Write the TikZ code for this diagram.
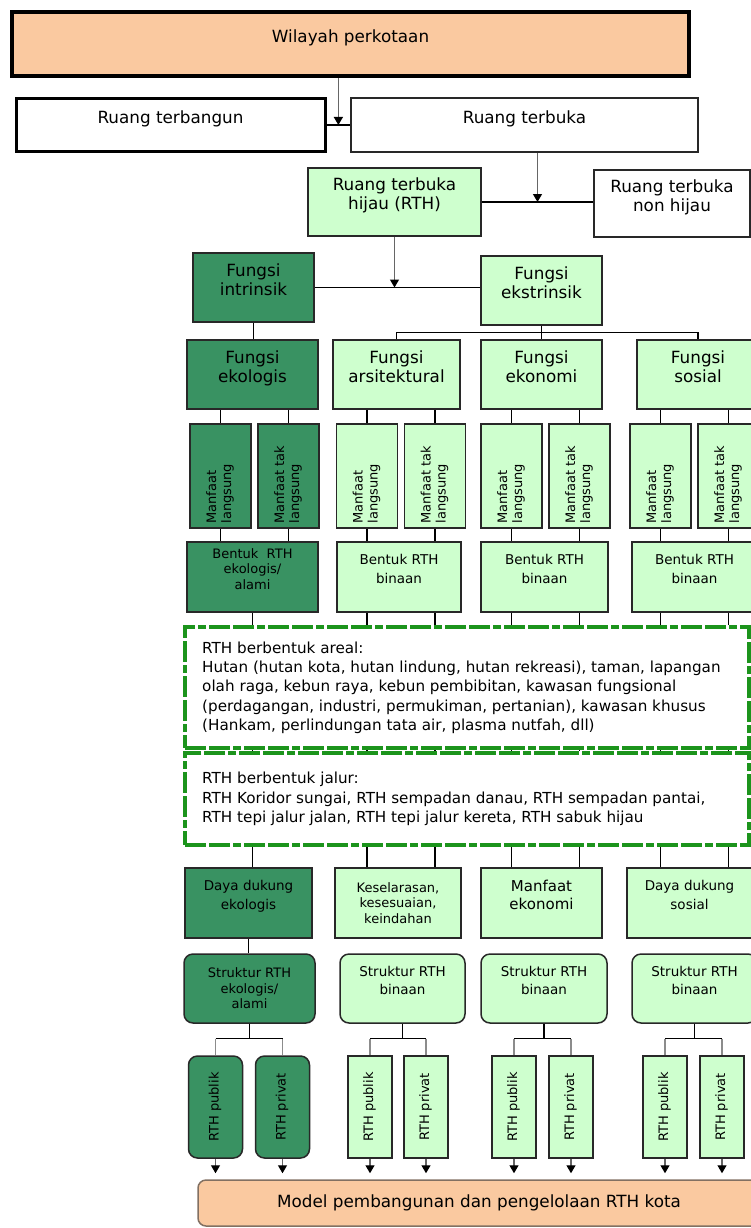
\documentclass[tikz,border=0pt]{standalone}
\usepackage{fontspec}
\setmainfont{DejaVu Sans}
\usepackage{graphicx}
\usetikzlibrary{arrows.meta,positioning,calc}

\definecolor{peach}{RGB}{250,201,160}
\definecolor{dkgreen}{RGB}{57,146,98}
\definecolor{ltgreen}{RGB}{206,255,206}
\definecolor{dashgreen}{RGB}{28,148,28}
\definecolor{edge}{RGB}{40,40,40}
\definecolor{modeledge}{RGB}{130,112,98}

\newcommand{\vlines}[1]{\rotatebox{90}{\begin{tabular}{@{}l@{}}#1\end{tabular}}}

\tikzset{
  box/.style={draw=edge, line width=1.5pt, align=center, inner sep=1pt,
    font=\fontsize{16.8}{19}\selectfont},
  sz/.style 2 args={minimum width=#1pt, minimum height=#2pt},
  wbox/.style={box, fill=white},
  lbox/.style={box, fill=ltgreen},
  dbox/.style={box, fill=dkgreen},
  rnd/.style={rounded corners=9pt},
  dround/.style={dbox, rnd},
  lift/.style={text depth=16pt},
  midfont/.style={font=\fontsize{13.5}{18.5}\selectfont},
  smallfont/.style={font=\fontsize{13}{15.5}\selectfont},
  vtext/.style={inner sep=0pt, font=\fontsize{13}{15}\selectfont},
  link/.style={draw=black, line width=1.4pt},
  faint/.style={draw=black!45, line width=1.4pt},
  arr/.style={draw=black!60, line width=1.3pt, -{Triangle[length=8pt,width=9pt,color=black]}},
  greenframe/.style={draw=dashgreen, line width=4pt,
    dash pattern=on 21pt off 3pt on 21pt off 3pt on 8pt off 3pt},
  listtext/.style={anchor=west, align=left, inner sep=0pt,
    font=\fontsize{15.2}{19.3}\selectfont}
}

\begin{document}
\begin{tikzpicture}[x=1pt,y=-1pt]
  \useasboundingbox (0,0) rectangle (751,1228);

  \node[wbox, fill=peach, draw=black, line width=4pt, lift, sz={677}{64}] (wil) at (350.5,44) {Wilayah perkotaan};
  \node[wbox, draw=black, line width=3pt, lift, sz={309}{52}] (bangun) at (170.5,125) {Ruang terbangun};
  \node[wbox, lift, sz={347}{54}] (buka) at (524.5,125) {Ruang terbuka};
  \node[lbox, lift, sz={173}{68}] (rth) at (394.5,202) {Ruang terbuka\\hijau (RTH)};
  \node[wbox, lift, sz={156}{67}] (nonh) at (672,203.5) {Ruang terbuka\\non hijau};
  \node[dbox, lift, sz={121}{69}] (intr) at (253.5,287.5) {Fungsi\\intrinsik};
  \node[lbox, lift, sz={121}{69}] (ekst) at (541.5,290.5) {Fungsi\\ekstrinsik};

  \node[dbox, lift, sz={131}{69}] (f1) at (252.5,374.5) {Fungsi\\ekologis};
  \node[lbox, lift, sz={127}{69}] (f2) at (396.5,374.5) {Fungsi\\arsitektural};
  \node[lbox, lift, sz={121}{69}] (f3) at (541.5,374.5) {Fungsi\\ekonomi};
  \node[lbox, lift, sz={122}{69}] (f4) at (698,374.5) {Fungsi\\sosial};

  \foreach \k/\x/\c in {1/220.5/dbox, 2/367/lbox, 3/511.5/lbox, 4/660.5/lbox} {
    \node[\c, sz={61}{104}] (ml\k) at (\x,476) {};
    \node[\c, sz={61}{104}] (mt\k) at (\x+68,476) {};
    \node[vtext, above=5pt of ml\k.south] (mlt\k) {\vlines{Manfaat\\langsung}};
    \node[vtext, above=5pt of mt\k.south] (mtt\k) {\vlines{Manfaat tak\\langsung}};
  }

  \node[dbox, smallfont, lift, sz={131}{70}] (b1) at (252.5,577) {Bentuk~ RTH\\ekologis/\\alami};
  \node[lbox, midfont, lift, sz={124}{70}] (b2) at (399,577) {Bentuk RTH\\binaan};
  \node[lbox, midfont, lift, sz={127}{70}] (b3) at (544.5,577) {Bentuk RTH\\binaan};
  \node[lbox, midfont, lift, sz={125}{70}] (b4) at (694.5,577) {Bentuk RTH\\binaan};

  \node[greenframe, sz={564}{121}] (areal) at (467,687.5) {};
  \node[listtext] (arealtxt) at ($(areal.west)+(19,0)$) {RTH berbentuk areal:\\
    Hutan (hutan kota, hutan lindung, hutan rekreasi), taman, lapangan\\
    olah raga, kebun raya, kebun pembibitan, kawasan fungsional\\
    (perdagangan, industri, permukiman, pertanian), kawasan khusus\\
    (Hankam, perlindungan tata air, plasma nutfah, dll)};
  \node[greenframe, sz={564}{92}] (jalur) at (467,799) {};
  \node[listtext] (jalurtxt) at ($(jalur.west)+(19,0)$) {RTH berbentuk jalur:\\
    RTH Koridor sungai, RTH sempadan danau, RTH sempadan pantai,\\
    RTH tepi jalur jalan, RTH tepi jalur kereta, RTH sabuk hijau};

  \node[dbox, midfont, lift, sz={127}{70}] (n1) at (248.5,903) {Daya dukung\\ekologis};
  \node[lbox, smallfont, sz={126}{70}] (n2) at (398,903) {Keselarasan,\\kesesuaian,\\keindahan};
  \node[lbox, font=\fontsize{15}{18.5}\selectfont, lift, sz={121}{70}] (n3) at (541.5,903) {Manfaat\\ekonomi};
  \node[lbox, midfont, lift, sz={125}{70}] (n4) at (689.5,903) {Daya dukung\\sosial};

  \node[dround, smallfont, sz={131}{69}] (st1) at (249.5,988.5) {Struktur RTH\\ekologis/\\alami};
  \node[lbox, rnd, midfont, lift, sz={125}{69}] (st2) at (402.5,988.5) {Struktur RTH\\binaan};
  \node[lbox, rnd, midfont, lift, sz={126}{69}] (st3) at (544,988.5) {Struktur RTH\\binaan};
  \node[lbox, rnd, midfont, lift, sz={125}{69}] (st4) at (694.5,988.5) {Struktur RTH\\binaan};

  \foreach \k/\a/\b/\w/\c in {1/215.5/282.5/54/dround, 2/370/426/44/lbox, 3/514/571/44/lbox, 4/665/722/44/lbox} {
    \node[\c, vtext, sz={\w}{102}] (pu\k) at (\a,1107) {\vlines{RTH publik}};
    \node[\c, vtext, sz={\w}{102}] (pr\k) at (\b,1107) {\vlines{RTH privat}};
  }

  \node[wbox, fill=peach, draw=modeledge, rounded corners=8pt, sz={562}{46}] (model) at (479,1203) {Model pembangunan dan pengelolaan RTH kota};

  \coordinate (gap1) at ($(bangun.east)!0.5!(buka.west)$);
  \draw[link] (bangun.east) -- (buka.west);
  \draw[arr] (wil.south -| gap1) -- (gap1);
  \coordinate (gap2) at ($(rth.east)!0.5!(rth.east -| nonh.west)$);
  \draw[link] (rth.east) -- (rth.east -| nonh.west);
  \draw[arr] (buka.south -| gap2) -- (gap2);
  \draw[link] (intr.east) -- (intr.east -| ekst.west);
  \draw[arr] (rth.south) -- (rth.south |- intr.east);

  \draw[link] (intr.south) -- (intr.south |- f1.north);
  \coordinate (j0) at ($(ekst.south)+(0,7)$);
  \draw[link] (ekst.south) -- (f3.north -| ekst);
  \draw[link] (f2.north) -- (f2.north |- j0) -- (f4.north |- j0) -- (f4.north);

  \foreach \k in {1,...,4} {
    \draw[link] (f\k.south -| ml\k) -- (ml\k.north);
    \draw[link] (f\k.south -| mt\k) -- (mt\k.north);
    \draw[link] (ml\k.south) -- (b\k.north -| ml\k);
    \draw[link] (mt\k.south) -- (b\k.north -| mt\k);
  }

  \draw[link] (b1.south) -- (areal.north -| b1);
  \draw[link] (areal.south -| b1) -- (jalur.north -| b1);
  \draw[link] (jalur.south -| b1) -- (n1.north -| b1);
  \foreach \k in {2,3,4}
    \foreach \p in {ml,mt} {
      \draw[link] (b\k.south -| \p\k) -- (areal.north -| \p\k);
      \draw[link] (areal.south -| \p\k) -- (jalur.north -| \p\k);
      \draw[link] (jalur.south -| \p\k) -- (n\k.north -| \p\k);
    }
  \draw[link] (n1.south) -- (n1.south |- st1.north);

  \foreach \k in {1,...,4} {
    \coordinate (j\k) at ($(st\k.south)+(0,15)$);
    \draw[link] (st\k.south) -- (j\k);
    \draw[link] (pu\k |- j\k) -- (pr\k |- j\k);
    \draw[faint] (pu\k |- j\k) -- (pu\k.north);
    \draw[faint] (pr\k |- j\k) -- (pr\k.north);
    \draw[arr, shorten >=6pt] (pu\k.south) -- (pu\k.south |- model.north);
    \draw[arr, shorten >=6pt] (pr\k.south) -- (pr\k.south |- model.north);
  }
\end{tikzpicture}
\end{document}
